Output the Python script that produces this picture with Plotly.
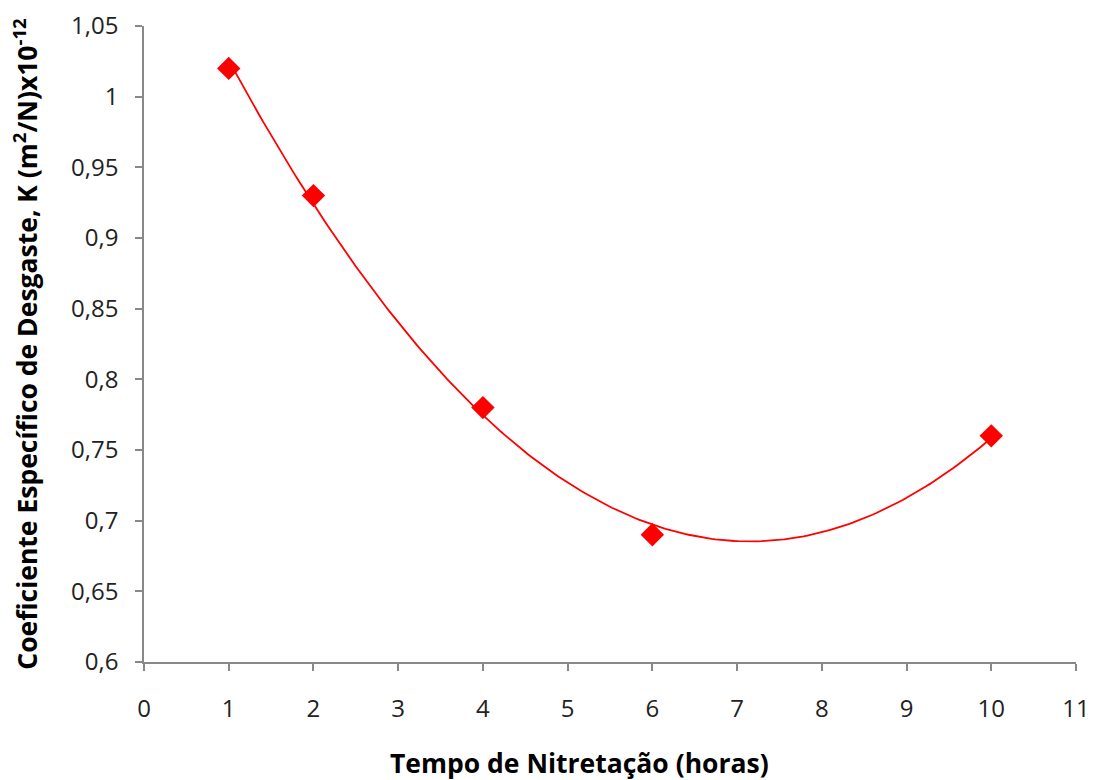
import numpy as np
import plotly.graph_objects as go

# Data
horas = [1, 2, 4, 6, 10]
k_desgaste = [1.02, 0.93, 0.78, 0.69, 0.76]

x_ticks = list(range(0, 12))
y_tickvals = [0.6, 0.65, 0.7, 0.75, 0.8, 0.85, 0.9, 0.95, 1.0, 1.05]
y_ticktext = ["0,6", "0,65", "0,7", "0,75", "0,8", "0,85", "0,9", "0,95", "1", "1,05"]

# Polynomial (order 2) trendline, as in the spreadsheet chart
coef = np.polyfit(horas, k_desgaste, 2)
xt = np.linspace(min(horas), max(horas), 200)
yt = np.polyval(coef, xt)

fig = go.Figure()
fig.add_trace(go.Scatter(x=xt, y=yt, mode="lines",
                         line=dict(color="#FF0000", width=1.8),
                         hoverinfo="skip", showlegend=False))
fig.add_trace(go.Scatter(x=horas, y=k_desgaste, mode="markers",
                         marker=dict(symbol="diamond", size=18, color="#FF0000"),
                         showlegend=False))

font_family = "Open Sans, Noto Sans, DejaVu Sans, sans-serif"
axis_common = dict(showgrid=False, zeroline=False, showline=True, automargin=False,
                   linecolor="#888888", linewidth=1.5,
                   ticks="outside", ticklen=7, tickcolor="#888888", tickwidth=1.5,
                   tickfont=dict(family=font_family, size=24, color="#222222"))

fig.update_layout(
    width=1096, height=780,
    paper_bgcolor="white", plot_bgcolor="white",
    margin=dict(l=144, r=20, t=26, b=118),
    separators=",.",
    xaxis=dict(range=[0, 11], tickvals=x_ticks, ticklabelstandoff=17, **axis_common),
    yaxis=dict(range=[0.6, 1.05], tickvals=y_tickvals, ticktext=y_ticktext,
               ticklabelstandoff=12, **axis_common),
    font=dict(family=font_family),
)

fig.add_annotation(text="<b>Tempo de Nitretação (horas)</b>",
                   xref="paper", yref="paper", x=0.467, y=-0.159,
                   yanchor="middle", showarrow=False,
                   font=dict(family=font_family, size=26.5, color="#000000"))
fig.add_annotation(text="<b>Coeficiente Específico de Desgaste, K (m<sup>2</sup>/N)x10<sup>-12</sup></b>",
                   xref="paper", yref="paper", x=-0.128, y=0.5, textangle=-90,
                   xanchor="center", yanchor="middle", showarrow=False,
                   font=dict(family=font_family, size=26.5, color="#000000"))

fig.write_html("out.html", config={"displayModeBar": False},
               post_script="document.body.style.margin='0';document.body.style.padding='0';")
